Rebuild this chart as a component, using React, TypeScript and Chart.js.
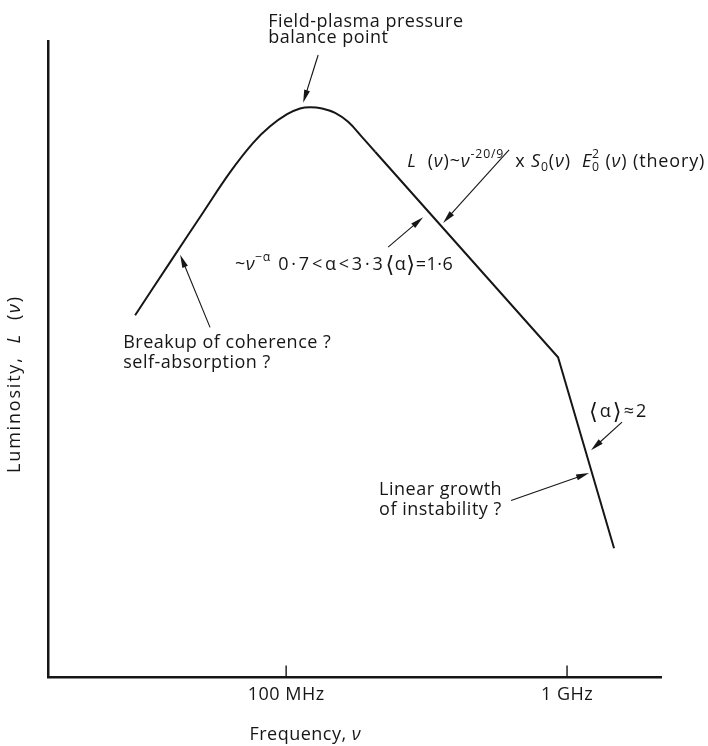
import React, { useEffect, useRef } from 'react';
import { Chart, registerables } from 'chart.js';

Chart.register(...registerables);

const FONT = '"Open Sans", "DejaVu Sans", sans-serif';
const INK = '#161616';
const TEXT_SIZE = 18;
const SPACING = 0.5;

// Spectrum: frequency in MHz, luminosity in arbitrary linear units (0–100)
const riseFreq = [29.0, 38.7, 50.7, 63.2, 76.3, 87.7, 100.8, 112.1, 121.7, 134.3, 149.4, 166.2, 186.4, 207.4];
const riseLum = [56.9, 65.3, 73.1, 79.4, 84.0, 86.6, 88.5, 89.4, 89.6, 89.4, 88.7, 87.3, 84.9, 82.6];
const fallFreq = [207.4, 929, 1470];
const fallLum = [82.6, 50.3, 20.3];

const freqMin = 14.2;
const freqMax = 2160;
const lumMin = 0;
const lumMax = 100;

const tickValues = [100, 1000];
const tickLabels = ['100 MHz', '1 GHz'];

type Run = { t?: string; it?: boolean; sup?: boolean; sub?: boolean; big?: boolean; over?: string; under?: string; ls?: number };
type Note = { lines: Run[][]; at: [number, number]; from?: [number, number]; to?: [number, number]; gap: number; ls?: number };

const notes: Note[] = [
  {
    lines: [[{ t: 'Field-plasma pressure' }], [{ t: 'balance point' }]],
    at: [86.3, 102.2], gap: 16,
    from: [130, 97.8], to: [115, 90.3],
  },
  {
    lines: [[
      { t: 'L', it: true }, { t: '  (' }, { t: 'ν', it: true }, { t: ')~' }, { t: 'ν', it: true }, { t: '-20/9', sup: true },
      { t: '  x ' }, { t: 'S', it: true }, { t: '0', sub: true }, { t: '(' }, { t: 'ν', it: true }, { t: ')  ' },
      { t: 'E', it: true }, { over: '2', under: '0' }, { t: ' (' }, { t: 'ν', it: true }, { t: ') (theory)' },
    ]],
    at: [269.6, 80.2], gap: 0, ls: 0.85,
    from: [621.7, 82.9], to: [362, 71.4],
  },
  {
    lines: [[
      { t: '~' }, { t: 'ν', it: true }, { t: '−α', sup: true }, { t: ' 0·7<α<3·3', ls: 2.8 },
      { t: '⟨', big: true }, { t: 'α' }, { t: '⟩', big: true }, { t: '=1·6' },
    ]],
    at: [65.8, 64.0], gap: 0,
    from: [230.7, 67.6], to: [307.3, 72.3],
  },
  {
    lines: [[{ t: 'Breakup of coherence ?' }], [{ t: 'self-absorption ?' }]],
    at: [26.3, 51.7], gap: 20,
    from: [53.6, 55.0], to: [41.96, 66.4],
  },
  {
    lines: [[{ t: '⟨', big: true }, { t: 'α' }, { t: '⟩', big: true }, { t: '≈2' }]],
    at: [1198, 40.9], gap: 0, ls: 2,
    from: [1569, 40.1], to: [1217, 35.7],
  },
  {
    lines: [[{ t: 'Linear growth' }], [{ t: 'of instability ?' }]],
    at: [214.3, 28.6], gap: 20,
    from: [632, 27.8], to: [1198, 32.1],
  },
];

const xTitle: Run[] = [{ t: 'Frequency, ' }, { t: 'ν', it: true }];
const yTitle: Run[] = [{ t: 'Luminosity,  ' }, { t: 'L', it: true }, { t: '  (' }, { t: 'ν', it: true }, { t: ')' }];
const Y_TITLE_SPACING = 1.8;

function runSize(r: Run, size: number) {
  return r.sup || r.sub ? size * 0.68 : r.big ? size * 1.25 : size;
}

function setFont(ctx: CanvasRenderingContext2D, size: number, it?: boolean) {
  ctx.font = `${it ? 'italic ' : ''}400 ${size}px ${FONT}`;
}

function setSpacing(ctx: CanvasRenderingContext2D, px: number) {
  (ctx as any).letterSpacing = `${px}px`;
}

function runsWidth(ctx: CanvasRenderingContext2D, runs: Run[], size: number, ls: number) {
  let w = 0;
  for (const r of runs) {
    setSpacing(ctx, r.ls ?? ls);
    if (r.over !== undefined) {
      setFont(ctx, size * 0.68);
      w += Math.max(ctx.measureText(r.over).width, ctx.measureText(r.under || '').width);
    } else {
      setFont(ctx, runSize(r, size), r.it);
      w += ctx.measureText(r.t || '').width;
    }
  }
  return w;
}

function drawRuns(ctx: CanvasRenderingContext2D, runs: Run[], x: number, y: number, size: number, ls: number) {
  ctx.textAlign = 'left';
  ctx.textBaseline = 'alphabetic';
  for (const r of runs) {
    setSpacing(ctx, r.ls ?? ls);
    if (r.over !== undefined) {
      setFont(ctx, size * 0.68);
      const w = Math.max(ctx.measureText(r.over).width, ctx.measureText(r.under || '').width);
      ctx.fillText(r.over, x, y - size * 0.5);
      ctx.fillText(r.under || '', x, y + size * 0.24);
      x += w;
    } else {
      const dy = r.sup ? -size * 0.5 : r.sub ? size * 0.24 : r.big ? size * 0.08 : 0;
      setFont(ctx, runSize(r, size), r.it);
      ctx.fillText(r.t || '', x, y + dy);
      x += ctx.measureText(r.t || '').width;
    }
  }
}

function arrow(ctx: CanvasRenderingContext2D, x1: number, y1: number, x2: number, y2: number) {
  const a = Math.atan2(y2 - y1, x2 - x1);
  const len = 13;
  const half = 3;
  ctx.lineWidth = 1.1;
  ctx.beginPath();
  ctx.moveTo(x1, y1);
  ctx.lineTo(x2 - Math.cos(a) * len * 0.6, y2 - Math.sin(a) * len * 0.6);
  ctx.stroke();
  ctx.beginPath();
  ctx.moveTo(x2, y2);
  ctx.lineTo(x2 - Math.cos(a) * len + Math.sin(a) * half, y2 - Math.sin(a) * len - Math.cos(a) * half);
  ctx.lineTo(x2 - Math.cos(a) * len - Math.sin(a) * half, y2 - Math.sin(a) * len + Math.cos(a) * half);
  ctx.closePath();
  ctx.fill();
}

const lettering = {
  id: 'lettering',
  beforeDraw(chart: any) {
    setSpacing(chart.ctx, SPACING);
  },
  afterDraw(chart: any) {
    const { ctx, chartArea } = chart;
    const xs = chart.scales.x;
    const ys = chart.scales.y;
    ctx.save();
    ctx.fillStyle = INK;
    ctx.strokeStyle = INK;

    // inward tick marks on the frequency axis
    ctx.lineWidth = 1.4;
    for (const v of tickValues) {
      const px = xs.getPixelForValue(v);
      ctx.beginPath();
      ctx.moveTo(px, chartArea.bottom);
      ctx.lineTo(px, chartArea.bottom - 12);
      ctx.stroke();
    }

    for (const n of notes) {
      const x = xs.getPixelForValue(n.at[0]);
      const y = ys.getPixelForValue(n.at[1]);
      n.lines.forEach((line, i) => drawRuns(ctx, line, x, y + i * n.gap, TEXT_SIZE, n.ls ?? SPACING));
      if (n.from && n.to) {
        arrow(ctx,
          xs.getPixelForValue(n.from[0]), ys.getPixelForValue(n.from[1]),
          xs.getPixelForValue(n.to[0]), ys.getPixelForValue(n.to[1]));
      }
    }

    // axis titles
    const xtw = runsWidth(ctx, xTitle, TEXT_SIZE, SPACING);
    drawRuns(ctx, xTitle, xs.getPixelForValue(117) - xtw / 2, chartArea.bottom + 63, TEXT_SIZE, SPACING);

    const ytw = runsWidth(ctx, yTitle, TEXT_SIZE, Y_TITLE_SPACING);
    ctx.translate(chartArea.left - 28, ys.getPixelForValue(46.1));
    ctx.rotate(-Math.PI / 2);
    drawRuns(ctx, yTitle, -ytw / 2, 0, TEXT_SIZE, Y_TITLE_SPACING);
    ctx.restore();
  },
};

export default function App() {
  const ref = useRef<HTMLCanvasElement | null>(null);

  useEffect(() => {
    if (!ref.current) return;
    const chart = new Chart(ref.current, {
      type: 'line',
      data: {
        datasets: [
          {
            data: riseFreq.map((f, i) => ({ x: f, y: riseLum[i] })),
            borderColor: INK,
            borderWidth: 2,
            pointRadius: 0,
            tension: 0.4,
            fill: false,
          },
          {
            data: fallFreq.map((f, i) => ({ x: f, y: fallLum[i] })),
            borderColor: INK,
            borderWidth: 2,
            pointRadius: 0,
            tension: 0,
            fill: false,
          },
        ],
      },
      options: {
        responsive: true,
        maintainAspectRatio: false,
        animation: false,
        events: [],
        layout: { padding: { left: 48, right: 47, top: 41, bottom: 33 } },
        plugins: { legend: { display: false }, tooltip: { enabled: false } },
        scales: {
          x: {
            type: 'logarithmic',
            bounds: 'data',
            min: freqMin,
            max: freqMax,
            grid: { display: false, drawTicks: false },
            border: { display: true, color: INK, width: 2.5 },
            afterBuildTicks: (s: any) => {
              s.ticks = tickValues.map((v) => ({ value: v }));
            },
            ticks: {
              autoSkip: false,
              maxRotation: 0,
              minRotation: 0,
              padding: 7,
              color: INK,
              font: { family: FONT, size: TEXT_SIZE },
              callback: (v: any) => tickLabels[tickValues.indexOf(Number(v))] ?? '',
            },
          },
          y: {
            type: 'linear',
            min: lumMin,
            max: lumMax,
            grid: { display: false, drawTicks: false },
            border: { display: true, color: INK, width: 2.5 },
            ticks: { display: false },
          },
        },
      },
      plugins: [lettering],
    } as any);
    return () => chart.destroy();
  }, []);

  return (
    <div style={{ position: 'fixed', left: 0, top: 0, width: 708, height: 746, background: '#fff' }}>
      <canvas ref={ref} />
    </div>
  );
}
